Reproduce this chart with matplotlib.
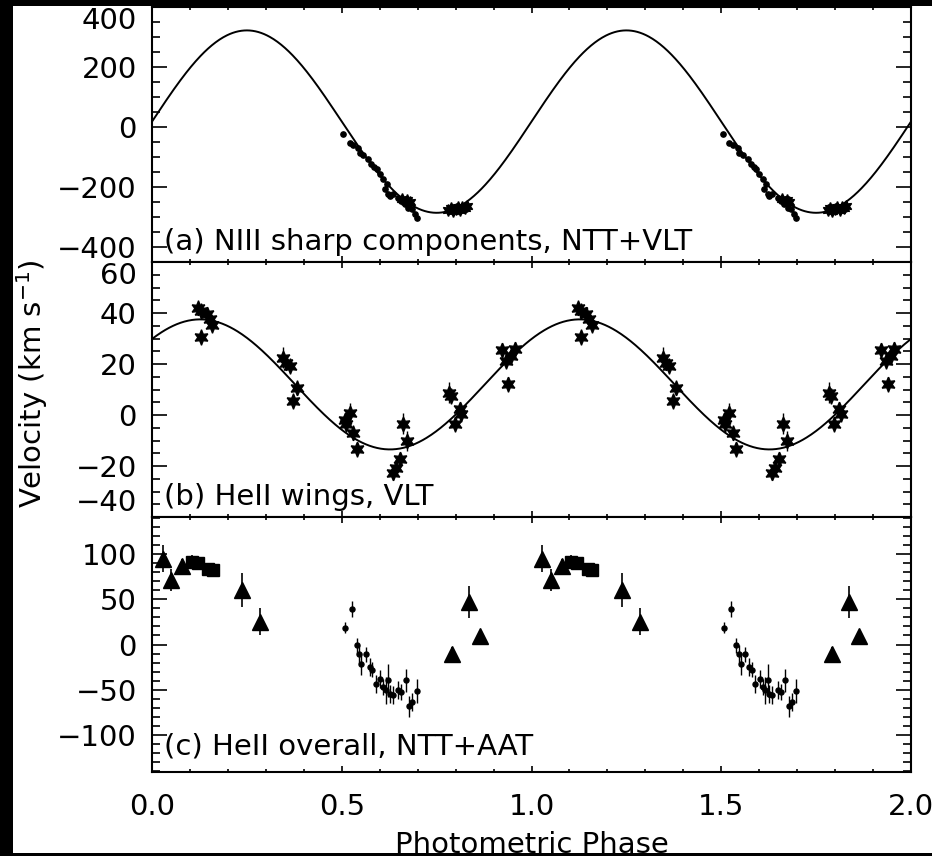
import numpy as np
import matplotlib
matplotlib.use("Agg")
import matplotlib.pyplot as plt
from matplotlib.ticker import MultipleLocator, FixedLocator
from matplotlib.patches import Rectangle

plt.rcParams['font.family'] = ['DejaVu Sans']
plt.rcParams['mathtext.fontset'] = 'dejavusans'

# ---------------- data (phase folded, shown over two cycles) ----------------
# (a) NIII sharp components
a_dot_phase = [0.504, 0.521, 0.530, 0.543, 0.548, 0.557, 0.570, 0.578, 0.585,
               0.592, 0.600, 0.609, 0.613, 0.618, 0.622, 0.627, 0.635, 0.649,
               0.657, 0.666, 0.671, 0.675, 0.684, 0.692, 0.697]
a_dot_vel = [-22, -52, -60, -69, -86, -93, -108, -124, -132, -141, -158, -174,
             -208, -189, -222, -230, -224, -236, -247, -258, -252, -269, -274,
             -291, -302]
a_star_phase = [0.660, 0.672, 0.679, 0.780, 0.787, 0.793, 0.800, 0.806, 0.812,
                0.818, 0.824, 0.829]
a_star_vel = [-239, -244, -250, -275, -270, -280, -272, -268, -276, -266, -270,
              -262]
a_gamma, a_K, a_phi0 = 18.0, 304.0, 0.0

# (b) HeII wings
b_phase = [0.122, 0.130, 0.144, 0.152, 0.159, 0.130,
           0.346, 0.354, 0.363, 0.381, 0.372,
           0.508, 0.521, 0.510, 0.530, 0.539,
           0.662, 0.672, 0.653, 0.642, 0.635,
           0.783, 0.789, 0.811, 0.815, 0.798,
           0.921, 0.934, 0.956, 0.947, 0.939]
b_vel = [42.1, 40.8, 39.5, 37.5, 35.3, 30.6,
         22.5, 20.5, 19.2, 10.7, 5.5,
         -2.1, 0.9, -3.7, -6.9, -13.5,
         -3.4, -10.2, -17.4, -20.7, -22.6,
         8.8, 7.5, 2.2, 0.3, -3.7,
         25.4, 21.2, 25.8, 23.1, 12.0]
b_err = [3, 3, 3, 3, 3, 3,
         4, 3, 3, 3, 3,
         3, 4, 3, 3, 3,
         4, 4, 3, 3, 3,
         4, 3, 3, 3, 3,
         3, 3, 3, 3, 3]
b_gamma, b_K, b_phi0 = 12.0, 25.5, 0.123

# (c) HeII overall
c_tri_phase = [0.028, 0.051, 0.080, 0.238, 0.285, 0.791, 0.836, 0.864]
c_tri_vel = [95, 71, 87, 60, 25, -10, 47, 9]
c_tri_err = [15, 12, 8, 19, 15, 7, 18, 6]
c_sq_phase = [0.105, 0.120, 0.148, 0.160]
c_sq_vel = [91, 90, 83, 82]
c_sq_err = [8, 7, 5, 5]
c_dot_phase = [0.508, 0.526, 0.539, 0.546, 0.552, 0.563, 0.574, 0.581, 0.590,
               0.602, 0.609, 0.616, 0.622, 0.627, 0.635, 0.649, 0.657, 0.669,
               0.678, 0.686, 0.697]
c_dot_vel = [18.4, 39.4, -1.1, -10.3, -21.3, -11.0, -25.0, -27.9, -43.4,
             -37.9, -47.1, -50.8, -39.7, -54.4, -56.3, -50.8, -52.6, -39.7,
             -68.4, -63.7, -51.5]
c_dot_err = [6, 9, 8, 10, 12, 8, 10, 8, 10, 10, 9, 15, 18, 10, 10, 10, 9, 13,
             12, 10, 13]

panel_labels = ['(a) NIII sharp components, NTT+VLT',
                '(b) HeII wings, VLT',
                '(c) HeII overall, NTT+AAT']
x_ticks = [0.0, 0.5, 1.0, 1.5, 2.0]
x_tick_labels = ['0.0', '0.5', '1.0', '1.5', '2.0']

# ---------------- figure ----------------
W, H = 932, 856
fig = plt.figure(figsize=(W / 100, H / 100), dpi=100)
fig.patch.set_facecolor('white')

left, right = 152, 911
rows = [(7, 262), (262, 517), (517, 772)]
axes = []
for top, bot in rows:
    ax = fig.add_axes([left / W, (H - bot) / H, (right - left) / W, (bot - top) / H])
    axes.append(ax)
ax_a, ax_b, ax_c = axes

FS = 21
for ax in axes:
    ax.set_xlim(0, 2)
    ax.xaxis.set_major_locator(FixedLocator(x_ticks))
    ax.xaxis.set_minor_locator(MultipleLocator(0.1))
    ax.tick_params(axis='both', which='both', direction='in', top=True,
                   right=True, width=1.2, colors='black', labelsize=FS)
    ax.tick_params(axis='x', which='major', length=4.3, pad=15)
    ax.tick_params(axis='x', which='minor', length=2.5)
    ax.tick_params(axis='y', which='major', length=10.8, pad=11)
    ax.tick_params(axis='y', which='minor', length=5.8)
    for sp in ax.spines.values():
        sp.set_linewidth(1.5)
    if ax is not ax_c:
        ax.tick_params(axis='x', labelbottom=False)

phase_grid = np.linspace(0, 2, 800)
lw_curve = 1.4

# (a)
ax_a.set_ylim(-450, 400)
ax_a.yaxis.set_major_locator(FixedLocator([-400, -200, 0, 200, 400]))
ax_a.yaxis.set_minor_locator(MultipleLocator(50))
ax_a.plot(phase_grid, a_gamma + a_K * np.sin(2 * np.pi * (phase_grid + a_phi0)),
          color='black', lw=lw_curve)
for k in (0, 1):
    ax_a.plot(np.array(a_dot_phase) + k, a_dot_vel, 'o', color='black',
              ms=3.8, mec='black')
    ax_a.plot(np.array(a_star_phase) + k, a_star_vel, marker=(6, 1, 0),
              ls='none', color='black', ms=8.5)

# (b)
ax_b.set_ylim(-40, 60)
ax_b.yaxis.set_major_locator(FixedLocator([-40, -20, 0, 20, 40, 60]))
ax_b.yaxis.set_minor_locator(MultipleLocator(5))
ax_b.plot(phase_grid, b_gamma + b_K * np.sin(2 * np.pi * (phase_grid + b_phi0)),
          color='black', lw=lw_curve)
for k in (0, 1):
    ax_b.errorbar(np.array(b_phase) + k, b_vel, yerr=b_err, fmt='none',
                  ecolor='black', elinewidth=1.0, capsize=0)
    ax_b.plot(np.array(b_phase) + k, b_vel, marker=(6, 1, 0), ls='none',
              color='black', ms=10.5)

# (c)
ax_c.set_ylim(-141, 141)
ax_c.yaxis.set_major_locator(FixedLocator([-100, -50, 0, 50, 100]))
ax_c.yaxis.set_minor_locator(MultipleLocator(10))
for k in (0, 1):
    ax_c.errorbar(np.array(c_tri_phase) + k, c_tri_vel, yerr=c_tri_err,
                  fmt='^', color='black', ms=11, elinewidth=1.2, capsize=0)
    ax_c.errorbar(np.array(c_sq_phase) + k, c_sq_vel, yerr=c_sq_err,
                  fmt='s', color='black', ms=8.5, elinewidth=1.2, capsize=0)
    ax_c.errorbar(np.array(c_dot_phase) + k, c_dot_vel, yerr=c_dot_err,
                  fmt='o', color='black', ms=3.6, elinewidth=1.0, capsize=0)
ax_c.set_xticklabels(x_tick_labels)

# panel captions
label_y = [-385, -32, -113]
for ax, txt, yv in zip(axes, panel_labels, label_y):
    ax.text(0.032, yv, txt, fontsize=FS, va='center', ha='left', color='black')

# keep the end labels inside their own panel
fig.canvas.draw()
for ax, lo, hi in ((ax_a, None, 400), (ax_b, -40, 60)):
    for t in ax.get_yticklabels():
        pos = t.get_position()[1]
        if hi is not None and abs(pos - hi) < 1e-6:
            t.set_verticalalignment('top')
        if lo is not None and abs(pos - lo) < 1e-6:
            t.set_verticalalignment('bottom')

# axis titles
ax_b.set_ylabel(r'Velocity (km s$^{-1}$)', fontsize=FS)
ax_b.yaxis.label.set_ha('center')
ax_b.yaxis.label.set_va('center')
ax_b.yaxis.set_label_coords(-0.158, 0.525)
ax_c.set_xlabel('Photometric Phase', fontsize=FS)
ax_c.xaxis.set_label_coords(0.5, -0.232)

# dark frame along the left, top and bottom edges
fig.patches.append(Rectangle((0, 0), 13 / W, 1, transform=fig.transFigure,
                             facecolor='black', edgecolor='none', zorder=10))
fig.patches.append(Rectangle((0, 1 - 6 / H), 1, 6 / H, transform=fig.transFigure,
                             facecolor='black', edgecolor='none', zorder=10))
fig.patches.append(Rectangle((0, 0), 1, 3 / H, transform=fig.transFigure,
                             facecolor='black', edgecolor='none', zorder=10))

fig.savefig('out.png', dpi=100, facecolor='white')
